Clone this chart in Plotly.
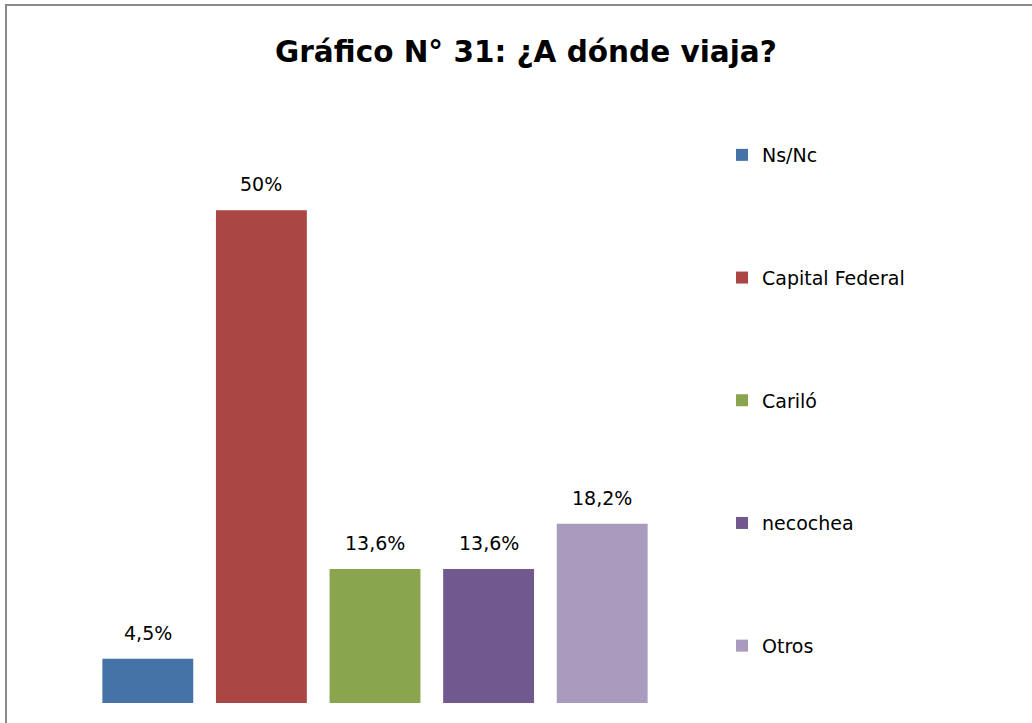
import plotly.graph_objects as go

categories = ["Ns/Nc", "Capital Federal", "Cariló", "necochea", "Otros"]
values = [4.5, 50, 13.6, 13.6, 18.2]
labels = ["4,5%", "50%", "13,6%", "13,6%", "18,2%"]
colors = ["#4572A7", "#AA4643", "#89A54E", "#71588F", "#A99BBD"]

FONT = "DejaVu Sans, Open Sans, sans-serif"
W, H = 1032, 723
ml, mr, mt, mb = 91, 373, 161, 20
pw = W - ml - mr
ph = H - mt - mb

fig = go.Figure()
for i, (c, v, col) in enumerate(zip(categories, values, colors)):
    fig.add_trace(go.Bar(
        x=[c], y=[v], name=c,
        marker=dict(color=col, line=dict(width=0)), width=0.8,
        legendgroup=f"g{i}",
    ))

annotations = [dict(x=c, y=v, xref="x", yref="y", text=lab, showarrow=False,
                    yanchor="middle", yshift=26,
                    font=dict(family=FONT, size=19, color="#000000"))
               for c, v, lab in zip(categories, values, labels)]

def px_x(p):
    return (p - ml) / pw

def px_y(p):
    return (H - mb - p) / ph

fig.update_layout(
    width=W, height=H,
    margin=dict(l=ml, r=mr, t=mt, b=mb),
    paper_bgcolor="white", plot_bgcolor="white",
    barmode="overlay",
    showlegend=True,
    annotations=annotations,
    title=dict(text="<b>Gráfico N° 31: ¿A dónde viaja?</b>",
               font=dict(family=FONT, size=29.5, color="#000000"),
               x=526 / W, xanchor="center", y=1 - 52 / H, yanchor="middle"),
    legend=dict(x=px_x(722), xanchor="left", y=px_y(136), yanchor="top",
                font=dict(family=FONT, size=19, color="#000000"),
                tracegroupgap=95, itemwidth=30, bgcolor="rgba(0,0,0,0)",
                maxheight=700),
    xaxis=dict(visible=False, range=[-0.5, 4.5]),
    yaxis=dict(visible=False, range=[0, 55]),
    font=dict(family=FONT),
    shapes=[dict(type="rect", xref="paper", yref="paper",
                 x0=px_x(6), y0=px_y(760), x1=px_x(1060), y1=px_y(5),
                 line=dict(color="#8a8a8a", width=2), fillcolor="rgba(0,0,0,0)", layer="below")],
)

fig.write_html("out.html", config={"displayModeBar": False},
               post_script="document.body.style.margin='0';")
